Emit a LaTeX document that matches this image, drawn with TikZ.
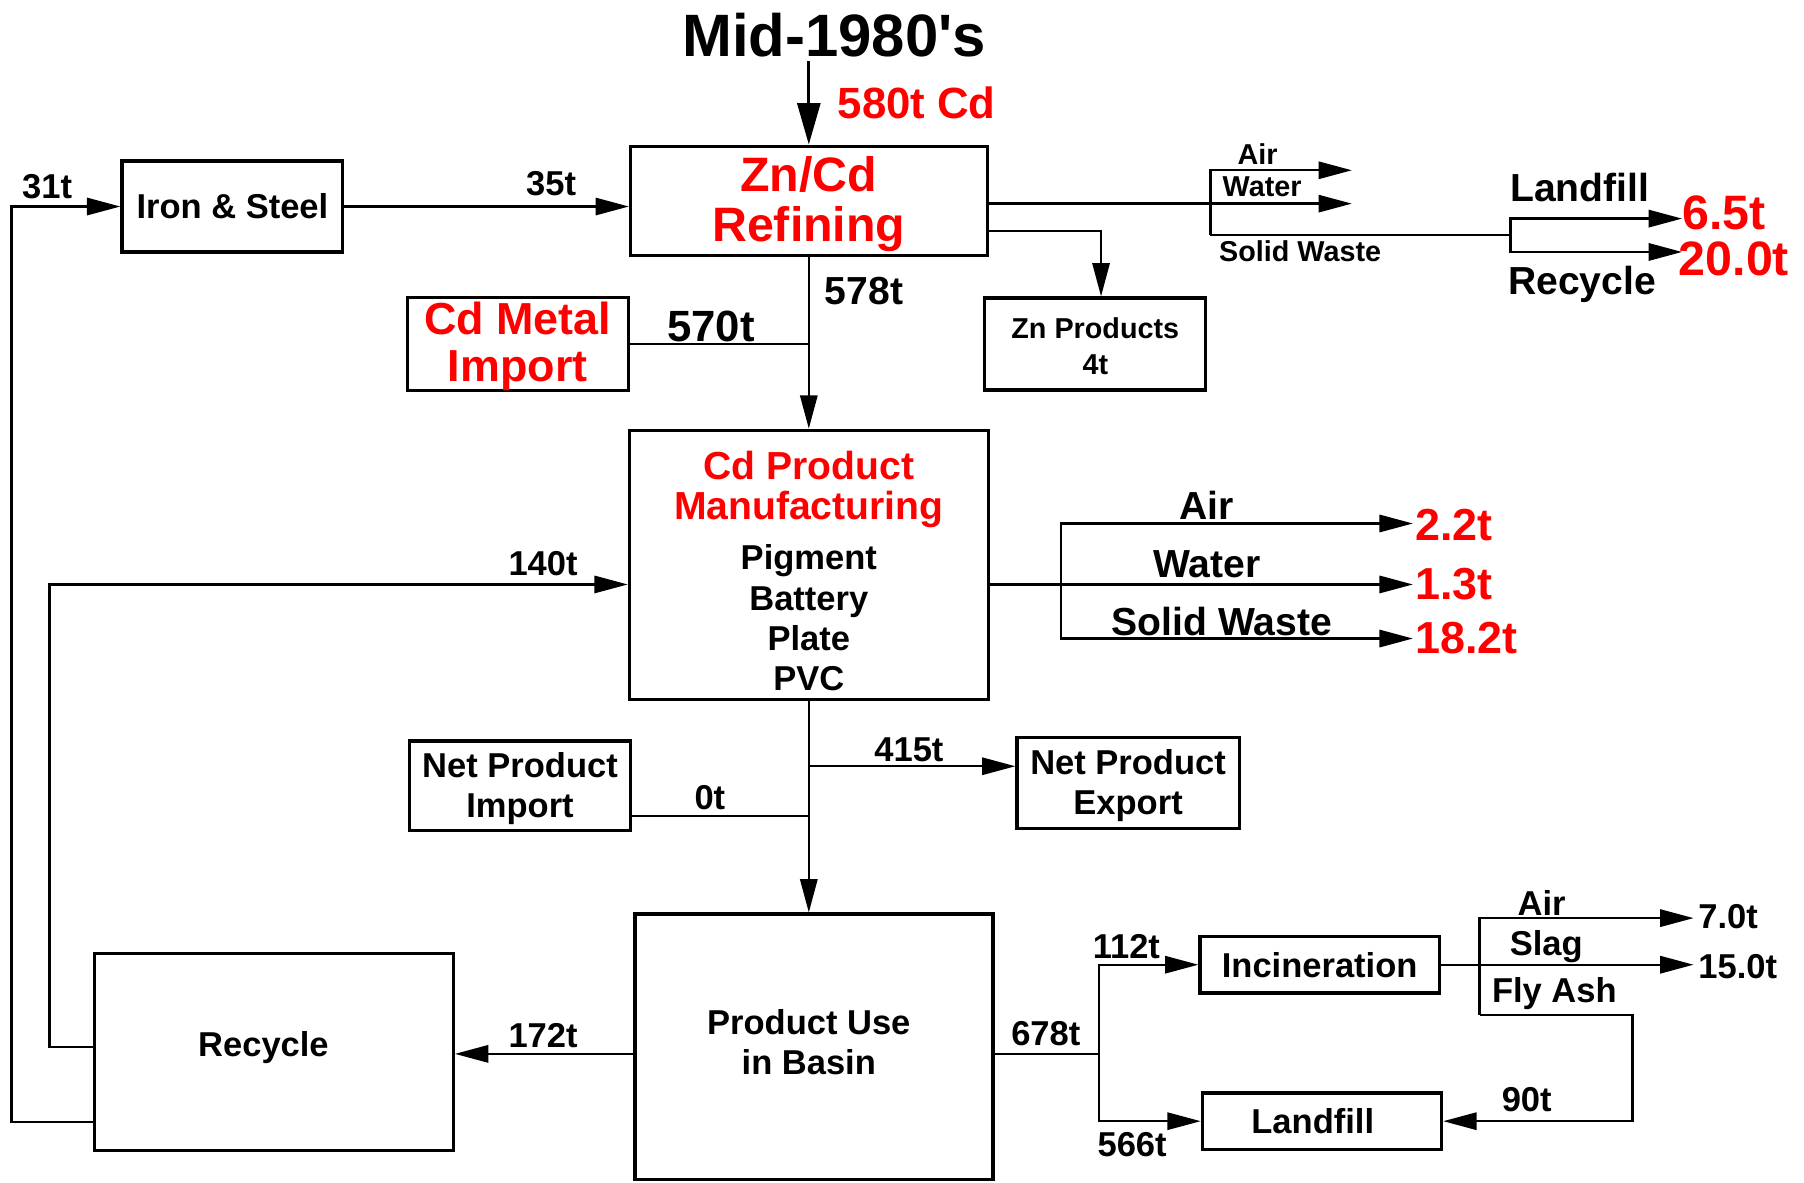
\documentclass[tikz,border=0pt]{standalone}
\usepackage{fontspec}
\setmainfont{Liberation Sans}
\usetikzlibrary{arrows.meta,calc}
\definecolor{cdred}{RGB}{255,0,0}
\newcommand{\fsz}[2]{\fontsize{#1}{#2}\selectfont}
\begin{document}
\begin{tikzpicture}[x=1pt,y=-1pt,
  tx/.style 2 args={inner sep=0pt, align=center, font=\bfseries\fsz{#1}{#2}},
  box/.style={draw, line width=2.8pt, inner sep=0pt},
  ln/.style={line width=2pt},
  flow/.style={line width=2pt, -{Triangle[length=29pt,width=15pt]}},
  bigflow/.style={line width=2.4pt, -{Triangle[length=36pt,width=20pt]}}
]
\fill[white] (0,0) rectangle (1568,1028);
\useasboundingbox (0,0) rectangle (1568,1028);

% ---------- boxes ----------
\node[box,tx={30}{35},minimum width=192,minimum height=79] (iron) at (202,179.5) {Iron \& Steel};
\node[box,tx={42}{44},text=cdred,minimum width=310,minimum height=95] (zncd) at (703,174.5) {\rule{0pt}{36pt}Zn/Cd\\Refining};
\node[box,tx={39}{41},text=cdred,minimum width=192,minimum height=80] (cdimp) at (450,299) {\rule{0pt}{32pt}Cd Metal\\Import};
\node[box,tx={25}{31},minimum width=192,minimum height=80] (znp) at (952,299) {\rule{0pt}{22pt}Zn Products\\4t};
\node[box,tx={30}{35},minimum width=312,minimum height=234] (cdpm) at (703,491)
  {\textcolor{cdred}{\fsz{34}{35}\rule{0pt}{35pt}Cd Product}\\\textcolor{cdred}{\fsz{34}{35}Manufacturing}\\[9pt]Pigment\\Battery\\Plate\\PVC};
\node[box,tx={30}{35},minimum width=192,minimum height=78] (npi) at (452,683) {\rule{0pt}{26pt}Net Product\\Import};
\node[box,tx={30}{35},minimum width=193,minimum height=79] (npe) at (980.5,680.5) {\rule{0pt}{26pt}Net Product\\Export};
\node[box,minimum width=311,minimum height=231,
  label={[tx={30}{35},xshift=-4.5pt,yshift=4pt]center:Product Use\\in Basin}] (pub) at (707.5,910) {};
\node[box,minimum width=312,minimum height=171,
  label={[tx={30}{35},xshift=-9pt,yshift=4pt]center:Recycle}] (rec) at (238,914.5) {};
\node[box,tx={30}{35},minimum width=208,minimum height=49] (inc) at (1147,838.5) {Incineration};
\node[box,minimum width=208,minimum height=49,
  label={[tx={30}{35},xshift=-8pt]center:Landfill}] (lf) at (1149,974.5) {};

% ---------- title ----------
\node[tx={52}{52},anchor=base] (title) at (725,49) {Mid-1980\textquotesingle s};
\coordinate (tarrow) at (703,53);
\draw[bigflow] (tarrow) -- (tarrow |- zncd.north);
\node[tx={38}{38},text=cdred,anchor=west] (l580) at (728,89) {580t Cd};

% ---------- iron & steel ----------
\draw[flow] (iron.east) -- (iron.east -| zncd.west);
\node[tx={30}{30}] (l35) at (479,160) {35t};
\coordinate (o1) at (10,975);
\draw[flow] (rec.west |- o1) -- (o1) |- (iron.west);
\node[tx={30}{30}] (l31) at (41,162) {31t};

% ---------- refining to manufacturing ----------
\draw[flow] (zncd.south) -- (cdpm.north);
\draw[ln] (cdimp.east) -- (cdimp.east -| zncd.south);
\node[tx={38}{38}] (l570) at (618,284) {570t};
\node[tx={34}{34}] (l578) at (751,253) {578t};

% ---------- refining emissions ----------
\coordinate (zb) at (1052,177);
\coordinate (zaEnd) at (1175,148);
\coordinate (zwEnd) at (1175,177);
\coordinate (zsJ) at (1313,204);
\coordinate (zlEnd) at (1462,190);
\coordinate (zrEnd) at (1462,219);
\draw[ln] (zncd.east |- zb) -- (zb);
\draw[flow] (zb) -- (zwEnd);
\draw[flow] (zb |- zsJ) -- (zb |- zaEnd) -- (zaEnd);
\draw[ln] (zb |- zsJ) -- (zsJ);
\draw[flow] (zsJ) |- (zlEnd);
\draw[flow] (zsJ) |- (zrEnd);
\node[tx={25}{25}] (lza) at (1093,134) {Air};
\node[tx={25}{25}] (lzw) at (1097,162) {Water};
\node[tx={25}{25}] (lzs) at (1130,218) {Solid Waste};
\node[tx={34}{34}] (lzl) at (1373,163) {Landfill};
\node[tx={34}{34}] (lzr) at (1375,247) {Recycle};
\node[tx={42}{42},text=cdred,anchor=west] (l65) at (1462,185) {6.5t};
\node[tx={42}{42},text=cdred,anchor=west] (l200) at (1459,225) {20.0t};

% ---------- zn products ----------
\draw[flow] ($(zncd.east)+(0,26.5)$) -| ($(znp.north)+(5,0)$);

% ---------- manufacturing emissions ----------
\coordinate (mj) at (922,508);
\coordinate (maEnd) at (1228,455);
\coordinate (mwEnd) at (1228,508);
\coordinate (msEnd) at (1228,555);
\draw[ln] (mj -| cdpm.east) -- (mj);
\draw[flow] (mj) -- (mwEnd);
\draw[flow] (mj) |- (maEnd);
\draw[flow] (mj) |- (msEnd);
\node[tx={34}{34}] (lma) at (1049,439) {Air};
\node[tx={34}{34}] (lmw) at (1049,490) {Water};
\node[tx={34}{34}] (lms) at (1062,540) {Solid Waste};
\node[tx={39}{39},text=cdred,anchor=west] (l22) at (1230,456) {2.2t};
\node[tx={39}{39},text=cdred,anchor=west] (l13) at (1230,508) {1.3t};
\node[tx={39}{39},text=cdred,anchor=west] (l182) at (1230,555) {18.2t};

% ---------- recycle inner loop ----------
\coordinate (o2) at (43,910);
\coordinate (p140) at (547,508);
\draw[flow] (rec.west |- o2) -- (o2) |- (p140 -| cdpm.west);
\node[tx={30}{30}] (l140) at (472,490) {140t};

% ---------- manufacturing to use ----------
\draw[flow] (cdpm.south) -- (cdpm.south |- pub.north);
\coordinate (ej) at (703,666);
\draw[flow] (ej) -- (ej -| npe.west);
\node[tx={30}{30}] (l415) at (790,652) {415t};
\coordinate (ij) at (703,709);
\draw[ln] (ij -| npi.east) -- (ij);
\node[tx={30}{30}] (l0) at (617,693) {0t};

% ---------- use to recycle ----------
\coordinate (rj) at (552,916);
\draw[flow] (rj) -- (rj -| rec.east);
\node[tx={30}{30}] (l172) at (472,900) {172t};

% ---------- use to disposal ----------
\coordinate (pj) at (955,916);
\draw[ln] (pj -| pub.east) -- (pj);
\draw[flow] (pj) |- (inc.west);
\draw[flow] (pj) |- (lf.west);
\node[tx={30}{30}] (l678) at (909,898) {678t};
\node[tx={30}{30}] (l112) at (979,823) {112t};
\node[tx={30}{30}] (l566) at (984,995) {566t};

% ---------- incineration outputs ----------
\coordinate (ia) at (1286,798);
\coordinate (iaEnd) at (1472,798);
\coordinate (isEnd) at (1472,840);
\coordinate (ifa) at (1286,882);
\coordinate (ifc) at (1419,882);
\draw[flow] (inc.east) -- (inc.east -| isEnd);
\draw[flow] (ifa) -- (ia) -- (iaEnd);
\draw[flow] (ifa) -- (ifc) |- (lf.east);
\node[tx={30}{30}] (lia) at (1340,785) {Air};
\node[tx={30}{30}] (lis) at (1344,823) {Slag};
\node[tx={30}{30}] (lif) at (1351,864) {Fly Ash};
\node[tx={30}{30}] (l90) at (1327,956) {90t};
\node[tx={30}{30},anchor=west] (l70) at (1476,797) {7.0t};
\node[tx={30}{30},anchor=west] (l150) at (1476,840) {15.0t};
\end{tikzpicture}
\end{document}
